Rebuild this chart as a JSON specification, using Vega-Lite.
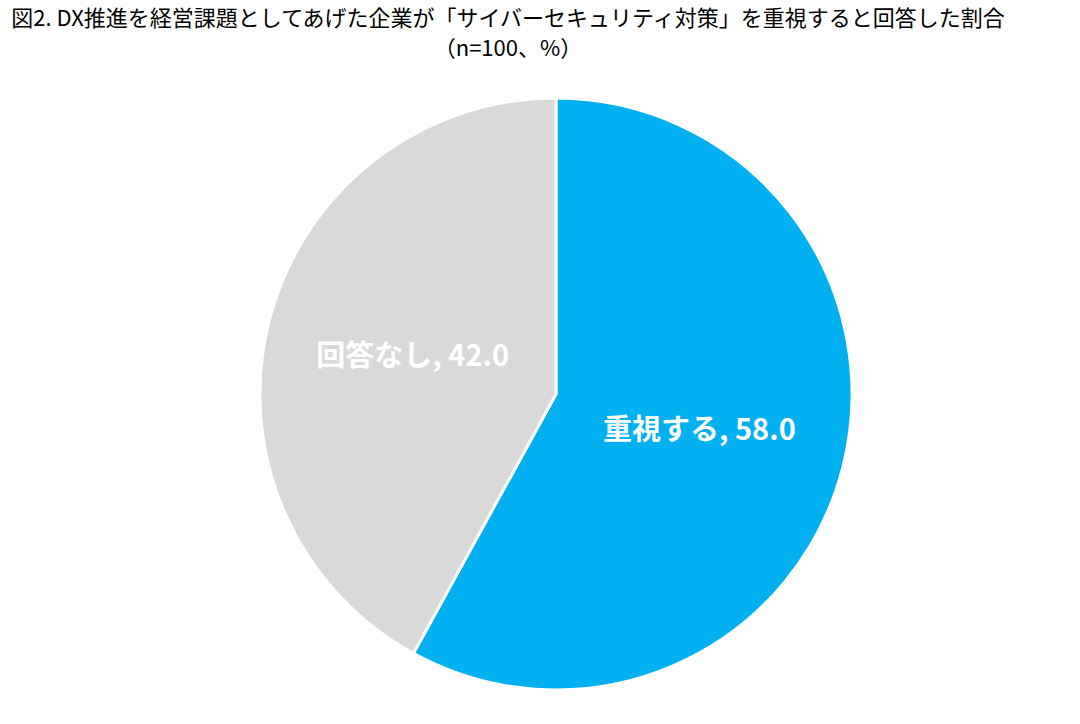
{
  "$schema": "https://vega.github.io/schema/vega-lite/v6.json",
  "autosize": "none",
  "width": 1048,
  "height": 660,
  "padding": {"left": 32, "top": 64, "right": 0, "bottom": 0},
  "background": "white",
  "title": {
    "text": ["図2. DX推進を経営課題としてあげた企業が「サイバーセキュリティ対策」を重視すると回答した割合", "（n=100、%）"],
    "font": "Noto Sans CJK JP",
    "fontSize": 22,
    "fontWeight": "normal",
    "color": "black",
    "anchor": "middle",
    "dx": -48,
    "offset": 3,
    "lineHeight": 30
  },
  "data": {
    "values": [
      {"category": "重視する", "value": 58.0},
      {"category": "回答なし", "value": 42.0}
    ]
  },
  "transform": [
    {"calculate": "datum.category + ', ' + format(datum.value, '.1f')", "as": "label"}
  ],
  "encoding": {
    "theta": {"field": "value", "type": "quantitative", "stack": true},
    "order": {"field": "value", "sort": "descending"},
    "color": {
      "field": "category",
      "type": "nominal",
      "scale": {"domain": ["重視する", "回答なし"], "range": ["#00B0F0", "#D9D9D9"]},
      "legend": null
    }
  },
  "layer": [
    {
      "mark": {"type": "arc", "outerRadius": 296, "stroke": "white", "strokeWidth": 3}
    },
    {
      "mark": {
        "type": "text",
        "radius": 148,
        "font": "Noto Sans CJK JP",
        "fontSize": 29,
        "fontWeight": "bold",
        "fill": "white"
      },
      "encoding": {
        "text": {"field": "label", "type": "nominal"},
        "color": {"value": "white"}
      }
    }
  ]
}
